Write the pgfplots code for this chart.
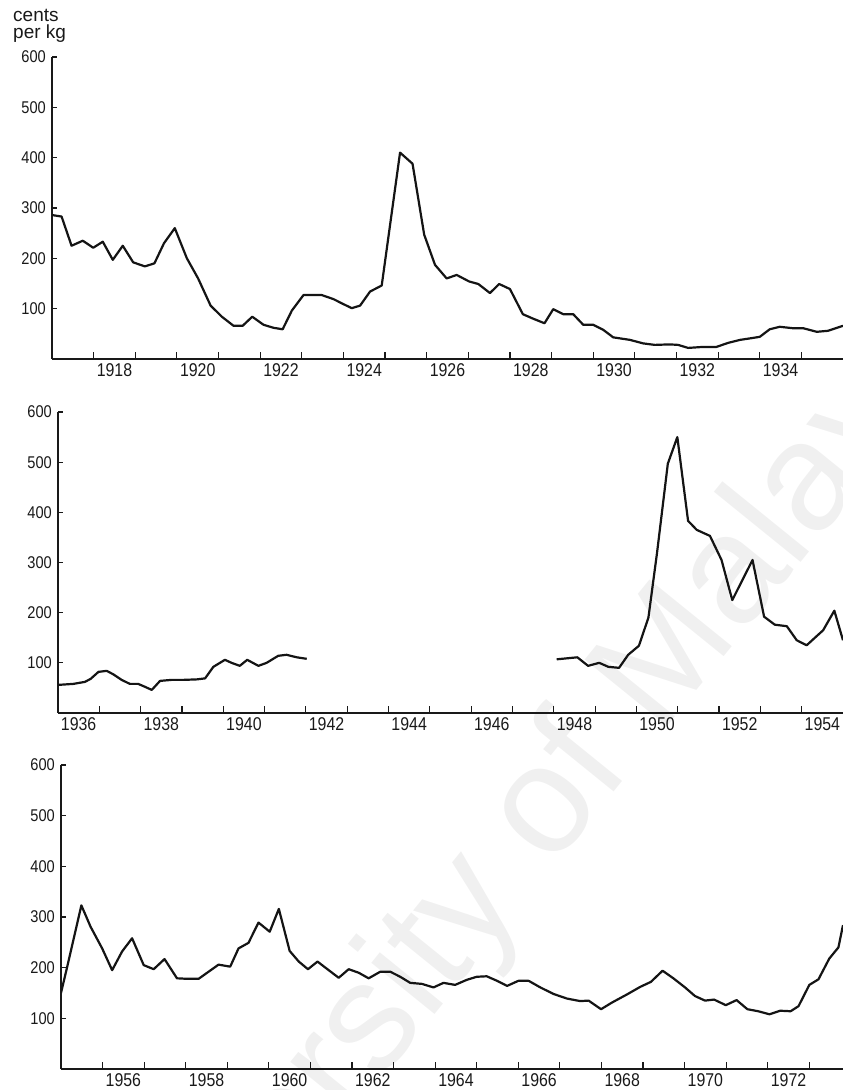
\documentclass[border=0pt]{standalone}
\usepackage{fontspec}
\setmainfont{Liberation Sans}
\newfontfamily\condfont{Liberation Sans}[FakeStretch=0.86]
\usepackage{pgfplots}
\pgfplotsset{compat=1.18}
\pgfplotsset{
  panel/.style={
    scale only axis, anchor=south west,
    axis x line*=bottom, axis y line*=left,
    ymin=0, ymax=600, ytick={100,200,300,400,500,600},
    tick align=inside,
    axis line style={line width=1.6pt, black!90},
    xtick style={line width=1.2pt, black!90, /pgfplots/major tick length=0pt, /pgfplots/minor tick length=7pt},
    ytick style={line width=1.2pt, black!90, /pgfplots/major tick length=5pt},
    /pgf/number format/assume math mode=true,
    yticklabel style={font=\condfont\fontsize{17}{17}\selectfont, inner sep=0pt, xshift=-6pt, text=black!90},
    xticklabel style={font=\condfont\fontsize{18.5}{18.5}\selectfont, inner sep=0pt, yshift=-4pt, text=black!90},
  },
  rline/.style={mark=none, line width=2.2pt, black!92, line join=round},
}
\begin{document}
\begin{tikzpicture}
\useasboundingbox (0pt,0pt) rectangle (843pt,1090pt);
\begin{scope}
\clip (0pt,0pt) rectangle (843pt,1090pt);
\node[rotate=51, text=black!6, font=\fontsize{154}{154}\selectfont, inner sep=0pt] at (505pt,226pt) {University of Malaya};
\end{scope}
\node[anchor=north west, align=left, inner sep=0pt, font=\fontsize{19}{17}\selectfont, text=black!90] at (13pt,1081pt) {cents\\per kg};

% ---------- Panel 1: 1917-1936
\begin{axis}[panel, at={(52pt,731pt)}, width=791pt, height=302pt,
  xmin=1917, xmax=1936,
  xtick={1918.5,1920.5,1922.5,1924.5,1926.5,1928.5,1930.5,1932.5,1934.5},
  xticklabels={1918,1920,1922,1924,1926,1928,1930,1932,1934},
  minor xtick={1918,1919,1920,1921,1922,1923,1924,1925,1926,1927,1928,1929,1930,1931,1932,1933,1934,1935}]
\addplot[rline] coordinates {
(1917.00,286)(1917.23,283)(1917.47,225)(1917.74,235)(1917.99,221)(1918.22,233)
(1918.46,197)(1918.70,225)(1918.95,192)(1919.23,184)(1919.46,190)(1919.69,230)
(1919.95,260)(1920.24,200)(1920.51,160)(1920.81,106)(1921.08,84)(1921.36,66)
(1921.58,66)(1921.81,84)(1922.08,68)(1922.32,62)(1922.54,59)(1922.76,96)
(1923.04,127)(1923.48,127)(1923.76,119)(1924.00,109)(1924.20,101)(1924.40,106)
(1924.64,134)(1924.92,146)(1925.36,410)(1925.66,388)(1925.94,247)(1926.20,187)
(1926.48,160)(1926.72,167)(1927.02,154)(1927.24,149)(1927.52,131)(1927.74,149)
(1928.00,139)(1928.31,89)(1928.56,80)(1928.83,71)(1929.04,99)(1929.28,89)
(1929.52,89)(1929.76,68)(1930.00,68)(1930.24,58)(1930.48,43)(1930.88,38)
(1931.20,31)(1931.48,28)(1931.84,29)(1932.04,28)(1932.28,22)(1932.64,24)
(1932.96,24)(1933.24,32)(1933.53,38)(1933.77,41)(1934.00,44)(1934.24,59)
(1934.48,64)(1934.81,61)(1935.05,61)(1935.37,54)(1935.64,56)(1936.00,66)
};
\end{axis}

% ---------- Panel 2: 1936-1955
\begin{axis}[panel, at={(58pt,377pt)}, width=785pt, height=301pt,
  xmin=1936, xmax=1955,
  xtick={1936.5,1938.5,1940.5,1942.5,1944.5,1946.5,1948.5,1950.5,1952.5,1954.5},
  xticklabels={1936,1938,1940,1942,1944,1946,1948,1950,1952,1954},
  minor xtick={1937,1938,1939,1940,1941,1942,1943,1944,1945,1946,1947,1948,1949,1950,1951,1952,1953,1954}]
\addplot[rline] coordinates {
(1936.00,56)(1936.37,58)(1936.65,62)(1936.79,68)(1936.98,82)(1937.18,84)
(1937.34,77)(1937.54,66)(1937.74,58)(1937.94,58)(1938.11,52)(1938.27,46)
(1938.47,64)(1938.75,66)(1939.03,66)(1939.36,67)(1939.56,69)(1939.76,92)
(1940.04,106)(1940.20,100)(1940.40,94)(1940.58,106)(1940.85,94)(1941.05,100)
(1941.33,114)(1941.53,116)(1941.78,111)(1942.02,108)
};
\addplot[rline] coordinates {
(1948.07,107)(1948.57,111)(1948.83,94)(1949.10,100)(1949.32,92)(1949.58,90)
(1949.80,116)(1950.06,134)(1950.29,190)(1950.50,320)(1950.76,497)(1950.99,550)
(1951.25,383)(1951.46,365)(1951.78,353)(1952.06,305)(1952.32,225)(1952.81,305)
(1953.09,192)(1953.35,176)(1953.64,173)(1953.88,145)(1954.12,135)(1954.52,165)
(1954.79,204)(1955.00,145)
};
\end{axis}

% ---------- Panel 3: 1955-1974
\begin{axis}[panel, at={(61pt,21pt)}, width=782pt, height=304pt,
  xmin=1955, xmax=1973.81,
  xtick={1956.5,1958.5,1960.5,1962.5,1964.5,1966.5,1968.5,1970.5,1972.5},
  xticklabels={1956,1958,1960,1962,1964,1966,1968,1970,1972},
  minor xtick={1956,1957,1958,1959,1960,1961,1962,1963,1964,1965,1966,1967,1968,1969,1970,1971,1972,1973}]
\addplot[rline] coordinates {
(1955.00,150)(1955.15,202)(1955.49,323)(1955.71,281)(1955.99,238)(1956.23,195)
(1956.47,232)(1956.71,258)(1956.99,205)(1957.23,197)(1957.49,217)(1957.79,179)
(1958.03,178)(1958.31,178)(1958.55,192)(1958.79,206)(1959.07,202)(1959.27,238)
(1959.51,249)(1959.75,289)(1960.02,271)(1960.24,316)(1960.50,233)(1960.72,212)
(1960.94,197)(1961.17,212)(1961.44,195)(1961.68,180)(1961.92,197)(1962.16,190)
(1962.40,179)(1962.68,192)(1962.92,192)(1963.16,182)(1963.40,170)(1963.68,168)
(1963.96,161)(1964.20,170)(1964.48,166)(1964.76,176)(1965.00,182)(1965.24,183)
(1965.49,174)(1965.73,164)(1966.00,174)(1966.25,174)(1966.53,161)(1966.85,148)
(1967.17,139)(1967.49,134)(1967.69,135)(1967.99,118)(1968.25,131)(1968.61,147)
(1968.93,162)(1969.19,172)(1969.47,194)(1969.73,179)(1970.01,161)(1970.25,144)
(1970.49,135)(1970.71,137)(1970.99,126)(1971.25,136)(1971.51,118)(1971.77,114)
(1972.04,108)(1972.30,115)(1972.55,114)(1972.74,124)(1973.00,166)(1973.22,177)
(1973.48,218)(1973.70,240)(1973.81,284)
};
\end{axis}
\end{tikzpicture}
\end{document}
